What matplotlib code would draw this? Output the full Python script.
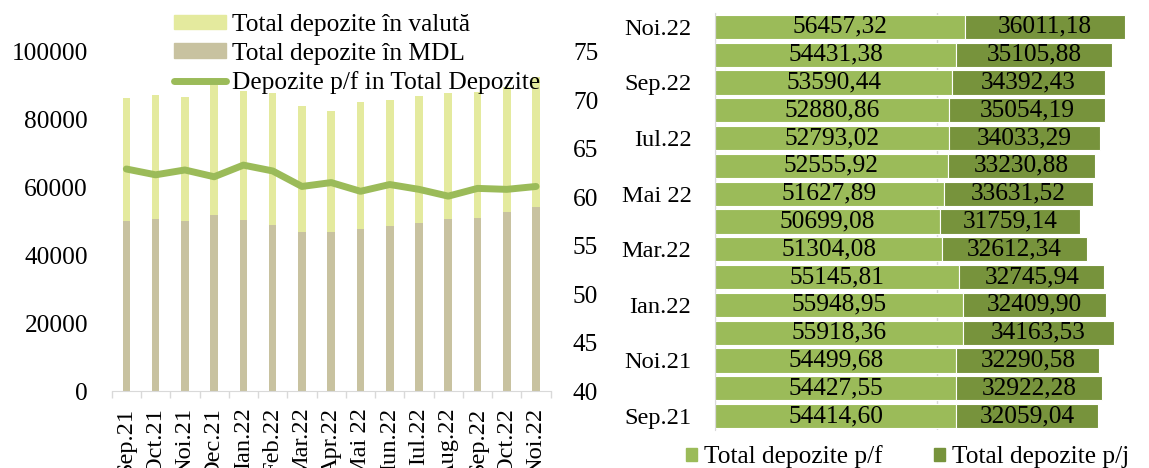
import numpy as np
import matplotlib
matplotlib.use("Agg")
import matplotlib.pyplot as plt
from matplotlib.patches import Patch
from matplotlib.lines import Line2D

plt.rcParams['font.family'] = ['Liberation Serif', 'DejaVu Serif']
FS = 18.3       # numbers, bar values, legends
FS_CAT = 17.6   # month labels

# --- data ---
months = ['Sep.21', 'Oct.21', 'Noi.21', 'Dec.21', 'Ian.22', 'Feb.22', 'Mar.22', 'Apr.22',
          'Mai 22', 'Iun.22', 'Iul.22', 'Aug.22', 'Sep.22', 'Oct.22', 'Noi.22']

# left panel
dep_mdl = [50100, 50780, 50010, 51960, 50490, 49010, 46770, 46770,
           47830, 48720, 49600, 50780, 51080, 52840, 54320]
dep_valuta = [36370, 36570, 36780, 38120, 37870, 38880, 37150, 35690,
              37430, 37070, 37230, 37160, 36900, 36700, 38150]
share_pf = [62.9, 62.3, 62.8, 62.1, 63.3, 62.7, 61.1, 61.5,
            60.6, 61.3, 60.8, 60.1, 60.9, 60.8, 61.1]

# right panel (labels on the bars)
dep_pf = [54414.60, 54427.55, 54499.68, 55918.36, 55948.95, 55145.81, 51304.08, 50699.08,
          51627.89, 52555.92, 52793.02, 52880.86, 53590.44, 54431.38, 56457.32]
dep_pj = [32059.04, 32922.28, 32290.58, 34163.53, 32409.90, 32745.94, 32612.34, 31759.14,
          33631.52, 33230.88, 34033.29, 35054.19, 34392.43, 35105.88, 36011.18]

c_mdl = '#C8C2A0'
c_val = '#E4EA9E'
c_line = '#9BBB59'
c_pf = '#9BBB59'
c_pj = '#77933C'
c_axis = '#D9D9D9'

W, H = 1149, 468
fig = plt.figure(figsize=(W / 100, H / 100), dpi=100)

# --- LEFT PANEL ---
ax = fig.add_axes([111.7 / W, 1 - 391 / H, 439 / W, 339.3 / H])
x = np.arange(len(months))
ax.bar(x, dep_mdl, width=0.26, color=c_mdl)
ax.bar(x, dep_valuta, width=0.26, bottom=dep_mdl, color=c_val)
ax.set_xlim(-0.5, len(months) - 0.5)
ax.set_ylim(0, 100000)
ax.set_yticks(np.arange(0, 100001, 20000))
ax.set_xticks(x)
ax.set_xticklabels(months, rotation=90, fontsize=FS_CAT)
ax.set_xticks(np.arange(-0.5, len(months), 1), minor=True)
ax.tick_params(axis='x', which='major', length=0, pad=12)
ax.tick_params(axis='x', which='minor', length=5, color=c_axis, width=1)
ax.tick_params(axis='y', length=0, pad=17, labelsize=FS)
for s in ['top', 'left', 'right']:
    ax.spines[s].set_visible(False)
ax.spines['bottom'].set_color(c_axis)

ax2 = ax.twinx()
ax2.plot(x, share_pf, color=c_line, lw=5, solid_capstyle='round', solid_joinstyle='round')
ax2.set_ylim(40, 75)
ax2.set_yticks(np.arange(40, 76, 5))
ax2.tick_params(axis='y', length=0, pad=16, labelsize=FS)
for s in ax2.spines.values():
    s.set_visible(False)

handles = [Patch(color=c_val), Patch(color=c_mdl),
           Line2D([], [], color=c_line, lw=5, solid_capstyle='round')]
labels = ['Total depozite în valută', 'Total depozite în MDL', 'Depozite p/f in Total Depozite']
fig.legend(handles, labels, loc='upper left', bbox_to_anchor=(174 / W, 1 - 14 / H),
           frameon=False, fontsize=FS, handlelength=2.05, handleheight=0.5,
           handletextpad=0.22, labelspacing=0.26, borderpad=0, borderaxespad=0)

# --- RIGHT PANEL ---
bx = fig.add_axes([715 / W, 1 - 430 / H, 443 / W, 417 / H])
y = np.arange(len(months))
b1 = bx.barh(y, dep_pf, height=0.875, color=c_pf, edgecolor='white', lw=0.8, zorder=2)
b2 = bx.barh(y, dep_pj, left=dep_pf, height=0.875, color=c_pj, edgecolor='white', lw=0.8, zorder=2)
bx.bar_label(b1, labels=[f'{v:.2f}'.replace('.', ',') for v in dep_pf],
             label_type='center', fontsize=FS)
bx.bar_label(b2, labels=[f'{v:.2f}'.replace('.', ',') for v in dep_pj],
             label_type='center', fontsize=FS)
bx.set_xlim(0, 100000)
bx.set_ylim(-0.5, len(months) - 0.5)
bx.set_xticks([0, 50000, 100000])
bx.set_xticklabels([])
bx.tick_params(axis='x', length=0)
bx.grid(axis='x', color=c_axis, lw=1, zorder=0)
bx.set_yticks(y[::2])
bx.set_yticklabels(months[::2], fontsize=FS_CAT)
bx.tick_params(axis='y', length=0, pad=17)
for s in ['top', 'right', 'bottom']:
    bx.spines[s].set_visible(False)
bx.spines['left'].set_color(c_axis)

fig.legend([Patch(color=c_pf), Patch(color=c_pj)], ['Total depozite p/f', 'Total depozite p/j'],
           loc='center left', bbox_to_anchor=(686 / W, 1 - 457 / H), ncol=2, frameon=False,
           fontsize=FS, handlelength=0.45, handleheight=0.45, handletextpad=0.27,
           columnspacing=2.0, borderpad=0, borderaxespad=0)

fig.savefig('out.png', dpi=100)
